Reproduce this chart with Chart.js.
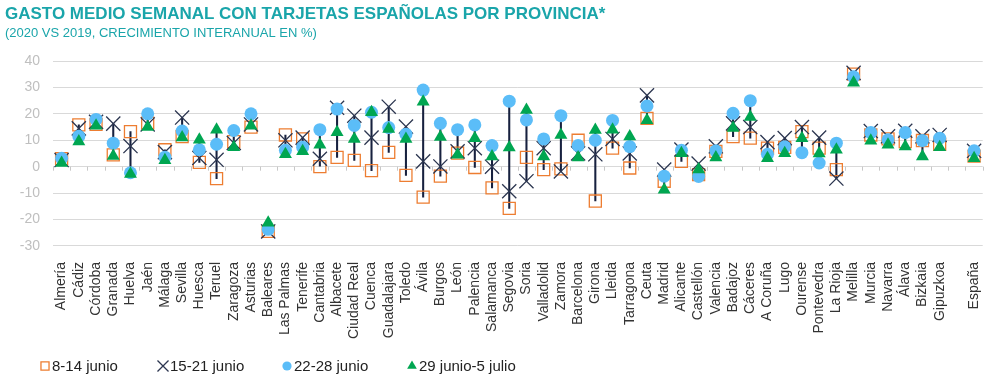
<!DOCTYPE html>
<html>
<head>
<meta charset="UTF-8">
<script src="https://cdn.jsdelivr.net/npm/chart.js@4.4.0/dist/chart.umd.min.js"></script>
<style>
  body { margin: 0; background: #fff; }
  #wrap { width: 999px; height: 386px; }
</style>
</head>
<body>
<div id="wrap"><canvas id="grafico"></canvas></div>
<script>
// Provincias (hueco vacío antes de España)
const provincias = ['Almería','Cádiz','Córdoba','Granada','Huelva','Jaén','Málaga','Sevilla','Huesca','Teruel','Zaragoza','Asturias','Baleares','Las Palmas','Tenerife','Cantabria','Albacete','Ciudad Real','Cuenca','Guadalajara','Toledo','Ávila','Burgos','León','Palencia','Salamanca','Segovia','Soria','Valladolid','Zamora','Barcelona','Girona','Lleida','Tarragona','Ceuta','Madrid','Alicante','Castellón','Valencia','Badajoz','Cáceres','A Coruña','Lugo','Ourense','Pontevedra','La Rioja','Melilla','Murcia','Navarra','Álava','Bizkaia','Gipuzkoa','','España'];

// Crecimiento interanual (%) por semana
const semana1 = [3, 15.8, 16, 4.5, 13.3, 16.5, 6.4, 11.4, 1.6, -4.5, 9.5, 15, -24.5, 12, 10.5, 0, 3.5, 2.4, -1.5, 5.4, -3.3, -11.5, -3.6, 5.1, -0.3, -8, -15.8, 3.5, -1.1, -0.8, 10, -13, 7, -0.5, 18.3, -5.5, 2, -3, 5.8, 11.4, 10.8, 7, 7.3, 13.3, 7, -1.1, 35, 12, 10.5, 9.5, 9.9, 8.5, null, 4];
const semana2 = [2.5, 14.5, 17, 16.3, 7.8, 16, 5.5, 18.6, 3.3, 2.6, 9, 16, -24.5, 10, 11, 3, 22.3, 19.3, 11, 22.7, 15.2, 2, 0.1, 5.8, 7, 0, -9.3, -5.5, 7, -1.8, 5, 4.7, 10.5, 5, 27, -1.1, 6.5, 1.2, 7.7, 16.4, 15, 9.3, 10.8, 15, 11, -4.5, 35.5, 13.5, 11.5, 13.6, 11.5, 12, null, 6];
const semana3 = [3.2, 11.5, 17.9, 8.9, -2.3, 20, 3.6, 13.5, 6.4, 8.5, 13.7, 20, -23.7, 6.2, 7.4, 14, 21.8, 15.6, 20.6, 14.8, 12.3, 29, 16.4, 14, 15.8, 8, 24.8, 17.7, 10.5, 19.3, 8, 10, 17.5, 7.6, 23, -3.6, 6.2, -3.7, 6, 20.2, 25, 4.7, 7.5, 5.3, 1.4, 8.9, 34, 12.9, 10.2, 12.9, 9.9, 10.8, null, 6];
const semana4 = [1.4, 9.5, 15.5, 4, -2.8, 15, 2.4, 11, 10.2, 14, 7.4, 15.5, -21.2, 4.7, 5.8, 8.3, 13, 10.5, 20.6, 14.3, 10.5, 24.6, 11.2, 4.5, 10.8, 3.9, 7.3, 21.5, 3.9, 12, 3.5, 13.9, 14, 11.4, 17.6, -8.7, 5.1, -1.1, 3.5, 14.6, 18.8, 3.2, 5.1, 10.8, 5, 6.4, 31.8, 9.8, 8.3, 7.6, 3.9, 7.4, null, 3.2];

const nombresSemanas = ['8-14 junio', '15-21 junio', '22-28 junio', '29 junio-5 julio'];
const ticksY = [-30, -20, -10, 0, 10, 20, 30, 40];

// Rango mínimo-máximo de cada provincia para la línea vertical
const rangos = provincias.map((p, i) => {
  const vals = [semana1[i], semana2[i], semana3[i], semana4[i]].filter(v => v !== null);
  if (!vals.length) return null;
  return [Math.min(...vals), Math.max(...vals)];
});

// Pequeñas marcas del eje en la línea del 0
const marcasCero = {
  id: 'marcasCero',
  afterDatasetsDraw(chart) {
    const x = chart.scales.x, y = chart.scales.y;
    const y0 = y.getPixelForValue(0);
    const paso = (x.right - x.left) / provincias.length;
    const ctx = chart.ctx;
    ctx.save();
    ctx.strokeStyle = '#c8c8c8';
    ctx.lineWidth = 1;
    ctx.beginPath();
    for (let i = 0; i <= provincias.length; i++) {
      const px = Math.round(x.left + i * paso) + 0.5;
      ctx.moveTo(px, y0);
      ctx.lineTo(px, y0 + 4);
    }
    ctx.stroke();
    ctx.restore();
  }
};

// Leyenda dibujada a mano (como en el original, marcadores pequeños)
const leyenda = {
  id: 'leyenda',
  afterDraw(chart) {
    const ctx = chart.ctx;
    const posiciones = [45, 163, 287, 412];
    const radios = [5.7, 7.8, 4.6, 5.6];
    const y = 366;
    ctx.save();
    for (let i = 0; i < 4; i++) {
      const ds = chart.data.datasets[i + 1];
      ctx.fillStyle = ds.pointBackgroundColor || 'rgba(0,0,0,0)';
      ctx.strokeStyle = ds.pointBorderColor || ds.pointBackgroundColor;
      ctx.lineWidth = ds.pointBorderWidth || 0;
      Chart.helpers.drawPoint(ctx, {
        pointStyle: ds.pointStyle, radius: radios[i], rotation: 0, borderWidth: ds.pointBorderWidth || 0
      }, posiciones[i], y);
      ctx.fillStyle = '#222';
      ctx.font = '15px "Liberation Sans", Arial';
      ctx.textBaseline = 'middle';
      ctx.fillText(ds.label, posiciones[i] + 7, y + 1);
    }
    ctx.restore();
  }
};

const ctx = document.getElementById('grafico').getContext('2d');
new Chart(ctx, {
  data: {
    labels: provincias,
    datasets: [
      {
        type: 'bar',
        label: 'rango',
        data: rangos,
        backgroundColor: '#17213f',
        barThickness: 1.4,
        order: 10
      },
      {
        type: 'line',
        label: nombresSemanas[0],
        data: semana1,
        showLine: false,
        pointStyle: 'rect',
        pointRadius: 8.5,
        pointBorderWidth: 1.3,
        pointBorderColor: '#ed7d31',
        pointBackgroundColor: 'rgba(0,0,0,0)',
        borderColor: '#ed7d31',
        backgroundColor: 'rgba(0,0,0,0)',
        order: 5
      },
      {
        type: 'line',
        label: nombresSemanas[1],
        data: semana2,
        showLine: false,
        pointStyle: 'crossRot',
        pointRadius: 10,
        pointBorderWidth: 1.3,
        pointBorderColor: '#2c3650',
        borderColor: '#2c3650',
        order: 4
      },
      {
        type: 'line',
        label: nombresSemanas[2],
        data: semana3,
        showLine: false,
        pointStyle: 'circle',
        pointRadius: 6.5,
        pointBorderWidth: 0,
        pointBackgroundColor: '#5bbdf8',
        borderColor: '#5bbdf8',
        backgroundColor: '#5bbdf8',
        order: 3
      },
      {
        type: 'line',
        label: nombresSemanas[3],
        data: semana4,
        showLine: false,
        pointStyle: 'triangle',
        pointRadius: 7.5,
        pointBorderWidth: 0,
        pointBackgroundColor: '#00a651',
        borderColor: '#00a651',
        backgroundColor: '#00a651',
        order: 2
      }
    ]
  },
  options: {
    responsive: true,
    maintainAspectRatio: false,
    animation: false,
    layout: { padding: { left: 5, right: 11, top: 4, bottom: 39 } },
    plugins: {
      title: {
        display: true,
        text: 'GASTO MEDIO SEMANAL CON TARJETAS ESPAÑOLAS POR PROVINCIA*',
        align: 'start',
        color: '#1aa5aa',
        font: { family: 'Liberation Sans, Arial', size: 17, weight: 'bold' },
        padding: { top: 0, bottom: 1 }
      },
      subtitle: {
        display: true,
        text: '(2020 VS 2019, CRECIMIENTO INTERANUAL EN %)',
        align: 'start',
        color: '#1aa5aa',
        font: { family: 'Liberation Sans, Arial', size: 13 },
        padding: { top: 0, bottom: 20 }
      },
      legend: { display: false },
      tooltip: { enabled: false }
    },
    scales: {
      x: {
        grid: { display: false },
        border: { display: false },
        ticks: {
          autoSkip: false,
          minRotation: 90,
          maxRotation: 90,
          padding: 8,
          color: '#333',
          font: { family: 'Liberation Sans, Arial', size: 14 }
        }
      },
      y: {
        min: ticksY[0],
        max: ticksY[ticksY.length - 1],
        afterFit: s => { s.width = 48; },
        afterBuildTicks: s => { s.ticks = ticksY.map(v => ({ value: v })); },
        grid: { color: '#d9d9d9', drawTicks: false },
        border: { display: false },
        ticks: {
          padding: 13,
          color: '#bfbfbf',
          font: { family: 'Liberation Sans, Arial', size: 14 }
        }
      }
    }
  },
  plugins: [marcasCero, leyenda]
});
</script>
</body>
</html>
